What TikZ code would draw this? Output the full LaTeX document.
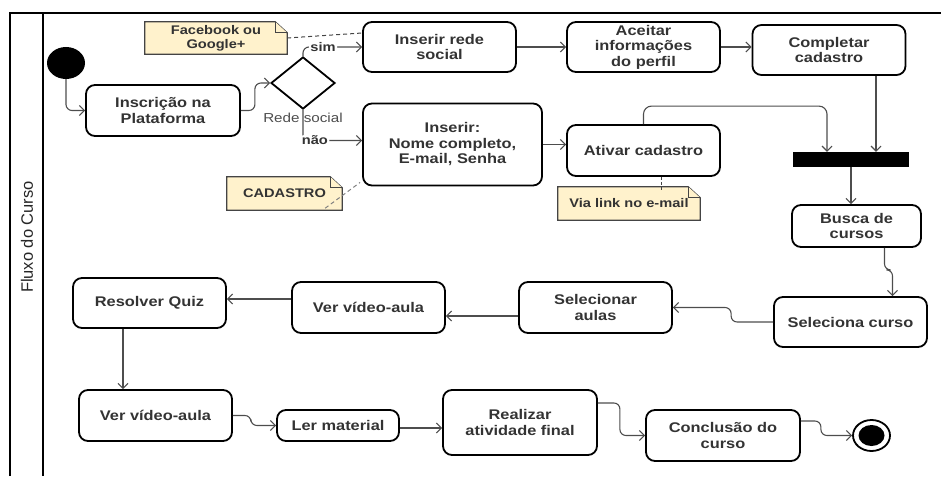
\documentclass[tikz,border=0pt]{standalone}
\usepackage{fontspec}
\setmainfont{Liberation Sans}[FakeStretch=1.17]
\newfontfamily\lanefont{Liberation Sans}
\usetikzlibrary{shapes.geometric,arrows.meta}
\definecolor{txt}{HTML}{333333}
\definecolor{conn}{HTML}{4D4D4D}
\definecolor{notefill}{HTML}{FFF2CC}
\definecolor{notebdc}{HTML}{444444}
\newcommand{\notebox}[6]{%
  \node[minimum width=#4, minimum height=#5, inner sep=0pt] (#1) at (#2,#3) {};
  \filldraw[notebd] (#1.south west) -- (#1.north west) -- ([xshift=-12pt]#1.north east)
     -- ([yshift=-11pt]#1.north east) -- (#1.south east) -- cycle;
  \draw[notebd] ([xshift=-12pt]#1.north east) |- ([yshift=-11pt]#1.north east);
  \node[notetxt] at (#1) {#6};}
\begin{document}
\begin{tikzpicture}[x=1pt,y=-1pt,
  act/.style={draw=black, line width=1.8pt, rounded corners=9pt, text=txt,
    font=\fontsize{14}{15.5}\selectfont\bfseries, align=center, inner sep=0pt,
    minimum width=153pt, minimum height=51pt},
  arr/.style={draw=conn, line width=1.1pt, -{Straight Barb[length=5pt,width=10pt]}},
  lbl/.style={fill=white, text=txt, font=\fontsize{12.5}{14}\selectfont\bfseries, inner sep=1.5pt},
  notebd/.style={draw=notebdc, fill=notefill, line width=1.3pt},
  notetxt/.style={text=txt, font=\fontsize{12.5}{14}\selectfont\bfseries, align=center, inner sep=0pt},
  notelink/.style={draw=notebdc, line width=1pt, dash pattern=on 4pt off 3pt},
  frame/.style={draw=black, line width=1.8pt}]
\useasboundingbox (0,0) rectangle (941,476);
% swimlane frame
\draw[frame] (10,476) -- (10,13) -- (941,13);
\draw[frame] (43,13) -- (43,476);
\node[rotate=90, font=\lanefont\fontsize{16.5}{18}\selectfont, text=black!85] (lane) at (27,237) {Fluxo do Curso};

% notes
\notebox{fb}{216}{38}{142pt}{32pt}{Facebook ou\\Google+}
\notebox{cad}{284.5}{193.5}{115pt}{33pt}{CADASTRO}
\notebox{via}{629}{203.5}{142pt}{33pt}{Via link no e-mail}

% nodes
\node[ellipse, fill=black, minimum width=38pt, minimum height=32pt, inner sep=0pt] (start) at (66,63) {};
\node[act, minimum width=154pt] (inscr) at (163,110.5) {Inscrição na\\Plataforma};
\node[diamond, draw=black, line width=1.8pt, minimum width=64pt, minimum height=52pt, inner sep=0pt] (dia) at (303,83) {};
\node[text=conn, font=\fontsize{13}{15}\selectfont, inner sep=0pt] (redel) at (303,118) {Rede social};
\node[act, minimum height=50pt] (social) at (439.5,47) {Inserir rede\\social};
\node[act, minimum height=50pt] (aceitar) at (643.5,47) {Aceitar\\informações\\do perfil};
\node[act, minimum height=50pt] (completar) at (829,50) {Completar\\cadastro};
\node[act, minimum width=179pt, minimum height=82pt] (nome) at (452.5,144.5) {Inserir:\\Nome completo,\\ E-mail, Senha};
\node[act] (ativar) at (643.5,150.5) {Ativar cadastro};
\node[fill=black, minimum width=116pt, minimum height=15pt, inner sep=0pt] (bar) at (851,159.5) {};
\node[act, minimum width=129pt, minimum height=42pt] (busca) at (856.5,226) {Busca de\\cursos};
\node[act, minimum height=50pt] (seleciona) at (850.5,322) {Seleciona curso};
\node[act] (selecionar) at (595.5,307.5) {Selecionar\\aulas};
\node[act] (ver1) at (368.5,307.5) {Ver vídeo-aula};
\node[act, minimum height=50pt] (quiz) at (149.5,303) {Resolver Quiz};
\node[act] (ver2) at (155.5,415.5) {Ver vídeo-aula};
\node[act, minimum width=122pt, minimum height=31pt] (ler) at (338,425.5) {Ler material};
\node[act, minimum width=154pt, minimum height=65pt] (realizar) at (520,422.5) {Realizar\\atividade final};
\node[act, minimum width=154pt] (conclusao) at (723,435.5) {Conclusão do\\curso};
\node[ellipse, draw=black, line width=1.8pt, minimum width=37pt, minimum height=31pt, inner sep=0pt] (fin) at (871.5,435.5) {};
\node[ellipse, fill=black, minimum width=26pt, minimum height=21pt, inner sep=0pt] (fincore) at (fin) {};

% note links
\draw[notelink] (fb.east) -- ([yshift=14pt]social.west);
\coordinate (cadc) at ([xshift=-17pt,yshift=2pt]cad.south east);
\draw[notelink, draw=gray] (cadc) -- ([xshift=-2pt,yshift=4pt]nome.south west);
\draw[notelink, dash pattern=on 3pt off 2pt] ([xshift=17.5pt]ativar.south) -- ([xshift=17.5pt,yshift=-3pt]ativar.south |- via.north);

% connectors
\draw[arr, rounded corners=6pt] (start.south) |- (inscr.west);
\draw[arr, rounded corners=6pt] (inscr.east) -- ++(14,0) |- (dia.west);
\draw[arr, rounded corners=6pt] (dia.north) |- (social.west) node[lbl, pos=0.67] {sim};
\draw[arr, rounded corners=6pt] (dia.south) |- ([yshift=4pt]nome.west) node[lbl, pos=0.6] {não};
\draw[arr] (social.east) -- (aceitar.west);
\draw[arr] (aceitar.east) -- (aceitar.east -| completar.west);
\draw[arr] (nome.east) -- (nome.east -| ativar.west);
\draw[arr, rounded corners=8pt] (ativar.north) -- ++(0,-18) -| ([xshift=-24pt]bar.north);
\draw[arr] ([xshift=25pt]bar.north |- completar.south) -- ([xshift=25pt]bar.north);
\draw[arr] (bar.south) -- (bar.south |- busca.north);
\draw[arr, rounded corners=6pt] ([xshift=28pt]busca.south) -- ++(0,22) -| ([xshift=42pt]seleciona.north);
\draw[arr, rounded corners=6pt] (seleciona.west) -- ++(-42,0) |- (selecionar.east);
\draw[arr] ([yshift=-8.5pt]selecionar.west) -- ([yshift=-8.5pt]ver1.east);
\draw[arr] ([yshift=8.5pt]ver1.west) -- ([yshift=8.5pt]ver1.west -| quiz.east);
\draw[arr] ([xshift=-26.5pt]quiz.south) -- ([xshift=-26.5pt]quiz.south |- ver2.north);
\draw[arr, rounded corners=6pt] (ver2.east) -- ++(18,0) |- (ler.west);
\draw[arr] ([yshift=-2.5pt]ler.east) -- ([yshift=-2.5pt]ler.east -| realizar.west);
\draw[arr, rounded corners=6pt] ([yshift=19.5pt]realizar.east) -- ++(22,0) |- (conclusao.west);
\draw[arr, rounded corners=6pt] ([yshift=14.5pt]conclusao.east) -- ++(20,0) |- (fin.west);
\end{tikzpicture}
\end{document}
